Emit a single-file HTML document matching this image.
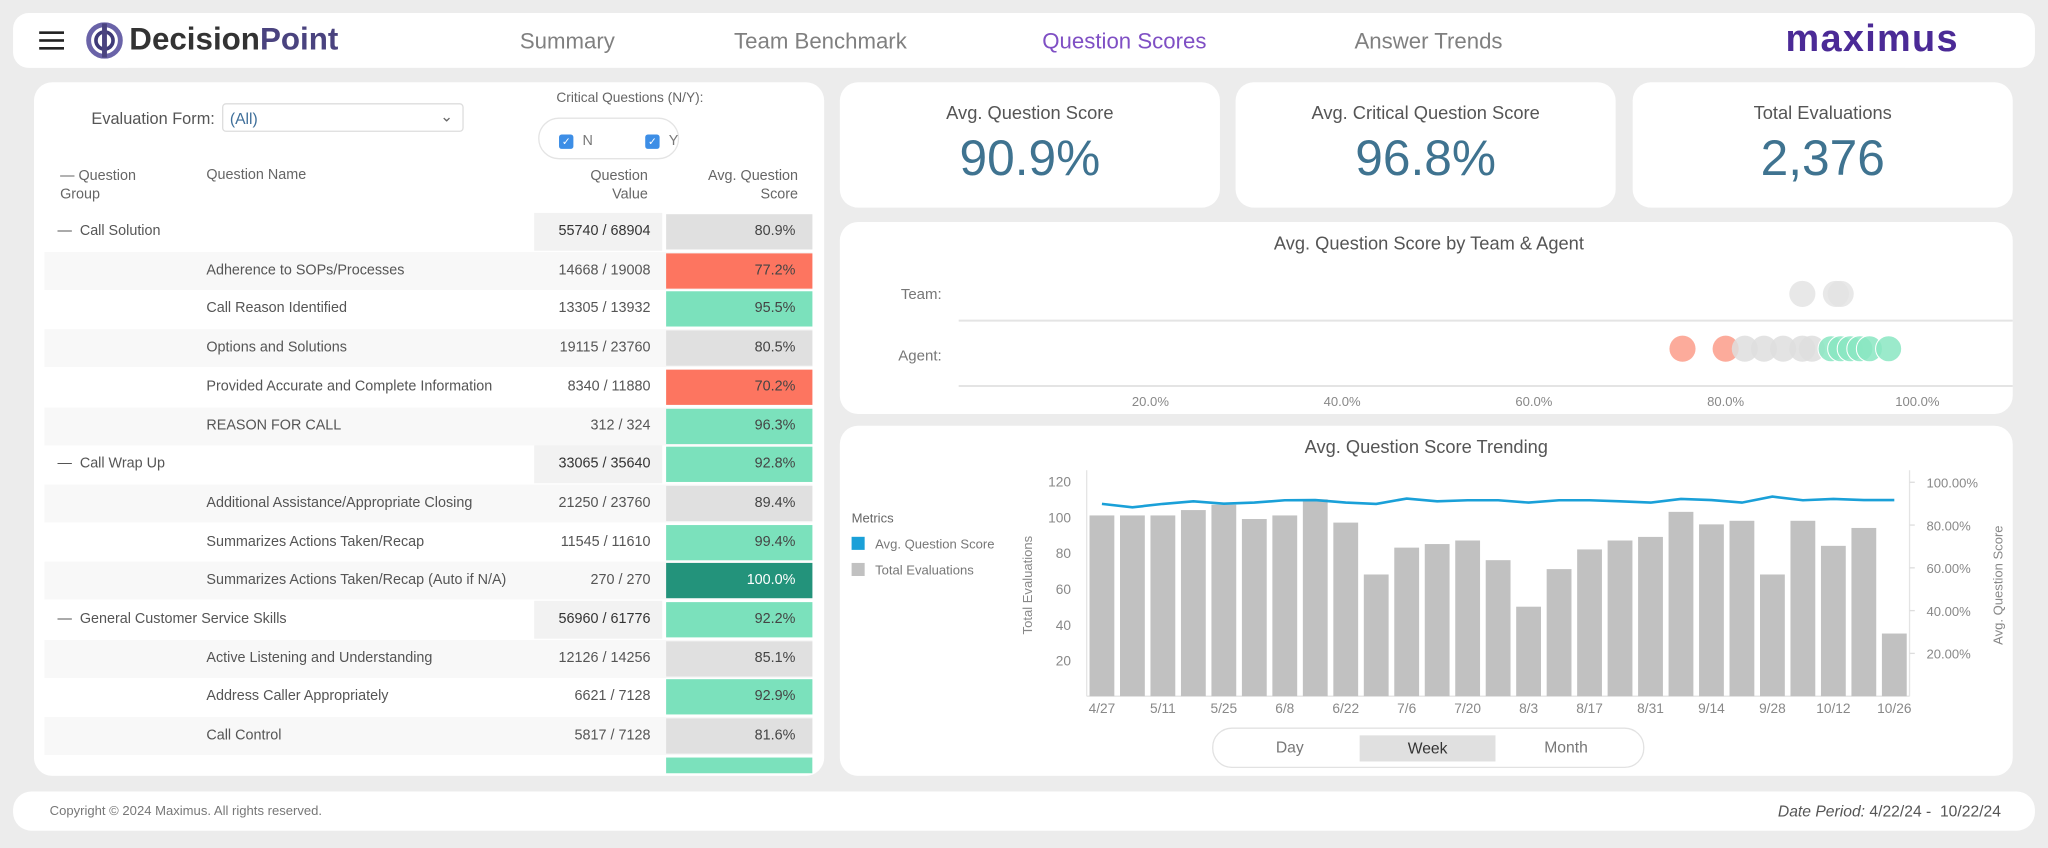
<!DOCTYPE html>
<html><head><meta charset="utf-8"><style>
*{box-sizing:border-box;margin:0;padding:0}
html,body{width:2048px;height:848px;overflow:hidden;background:#ececec;font-family:"Liberation Sans",Arial,sans-serif}
#root{position:absolute;left:0;top:0;width:1568px;height:649px;transform:scale(1.30612);transform-origin:0 0}
.card{position:absolute;background:#fff;border-radius:14px}
.abs{position:absolute}
.nav{position:absolute;top:12px;font-size:17px;color:#808080}
.kt{position:absolute;left:0;right:0;top:15px;text-align:center;font-size:14px;color:#555}
.kv{position:absolute;left:0;right:0;top:38px;text-align:center;font-size:38px;color:#3f7390}
.row{position:absolute;left:34px;width:588px;height:29px;font-size:11px;color:#555}
.row .nm{position:absolute;left:124px;top:8px}
.row .gn{position:absolute;left:10px;top:8px}
.row .val{position:absolute;left:375px;width:98px;top:0;height:29px;text-align:right;padding:8px 9px 0 0}
.row .sc{position:absolute;left:476px;width:112px;top:1px;height:27px;text-align:right;padding:7px 13px 0 0}
</style></head><body>
<div id="root">
<div class="card" style="left:10px;top:10px;width:1548px;height:42px;border-radius:12px">
  <div class="abs" style="left:20px;top:14px;width:19px;height:14px;border-top:2px solid #222;border-bottom:2px solid #222"><div style="margin-top:4px;height:2px;background:#222"></div></div>
  <svg class="abs" style="left:54px;top:7px" width="32" height="28" viewBox="0 0 34 30"><circle cx="17" cy="15" r="13" fill="none" stroke="#6a63a8" stroke-width="4"/><circle cx="17" cy="15" r="7" fill="none" stroke="#3f3a78" stroke-width="3"/><rect x="15" y="1" width="4" height="28" fill="#4a437f"/></svg>
  <div class="abs" style="left:89px;top:7px;font-size:24px;font-weight:bold;color:#333">Decision<span style="color:#4a437f">Point</span></div>
  <div class="nav" style="left:388px">Summary</div>
  <div class="nav" style="left:552px">Team Benchmark</div>
  <div class="nav" style="left:788px;color:#7f4fc4">Question Scores</div>
  <div class="nav" style="left:1027px">Answer Trends</div>
  <div class="abs" style="left:1357px;top:4px;font-size:29px;font-weight:bold;color:#4b2a96;letter-spacing:1px">maximus</div>
</div>

<div class="card" style="left:26px;top:63px;width:605px;height:531px;overflow:hidden">
  <div class="abs" style="left:44px;top:21px;font-size:12.5px;color:#555">Evaluation Form:</div>
  <div class="abs" style="left:144px;top:16px;width:185px;height:22px;border:1px solid #ddd;border-radius:3px;font-size:12px;color:#3f6f9a;padding:4px 5px">(All)<span style="position:absolute;right:7px;top:2px;color:#666">⌄</span></div>
  <div class="abs" style="left:400px;top:6px;font-size:10.5px;color:#666">Critical Questions (N/Y):</div>
  <div class="abs" style="left:386px;top:27px;width:108px;height:32px;border:1px solid #e4e4e4;border-radius:16px"></div>
  <div class="abs" style="left:402px;top:40px;width:11px;height:11px;background:#3d8ee6;border-radius:2px;color:#fff;font-size:8px;text-align:center;line-height:11px">✓</div>
  <div class="abs" style="left:420px;top:39px;font-size:11px;color:#777">N</div>
  <div class="abs" style="left:468px;top:40px;width:11px;height:11px;background:#3d8ee6;border-radius:2px;color:#fff;font-size:8px;text-align:center;line-height:11px">✓</div>
  <div class="abs" style="left:486px;top:39px;font-size:11px;color:#777">Y</div>
  <div class="abs" style="left:20px;top:65px;font-size:11px;color:#666;line-height:14px">— Question<br>Group</div>
  <div class="abs" style="left:132px;top:65px;font-size:11px;color:#666">Question Name</div>
  <div class="abs" style="left:400px;top:65px;font-size:11px;color:#666;line-height:14px;text-align:right;width:70px">Question<br>Value</div>
  <div class="abs" style="left:480px;top:65px;font-size:11px;color:#666;line-height:14px;text-align:right;width:105px">Avg. Question<br>Score</div>
</div>
<div id="rows"></div>

<div class="card" style="left:643px;top:63px;width:291px;height:96px"><div class="kt">Avg. Question Score</div><div class="kv">90.9%</div></div>
<div class="card" style="left:946px;top:63px;width:291px;height:96px"><div class="kt">Avg. Critical Question Score</div><div class="kv">96.8%</div></div>
<div class="card" style="left:1250px;top:63px;width:291px;height:96px"><div class="kt">Total Evaluations</div><div class="kv">2,376</div></div>

<div class="card" style="left:643px;top:170px;width:898px;height:147px"></div>
<svg id="dots" class="abs" style="left:0;top:0" width="1568" height="649"></svg>

<div class="card" style="left:643px;top:326px;width:898px;height:268px"></div>
<svg id="trend" class="abs" style="left:0;top:0" width="1568" height="649"></svg>
<div class="abs" style="left:928px;top:557px;width:331px;height:31px;border:1px solid #e2e2e2;border-radius:15px;background:#fff"></div>
<div class="abs" style="left:940px;top:562px;width:95px;height:21px;text-align:center;font-size:12px;color:#777;line-height:21px">Day</div>
<div class="abs" style="left:1041px;top:563px;width:104px;height:20px;background:#e0e0e0;text-align:center;font-size:12px;color:#333;line-height:20px">Week</div>
<div class="abs" style="left:1150px;top:562px;width:98px;height:21px;text-align:center;font-size:12px;color:#777;line-height:21px">Month</div>

<div class="card" style="left:10px;top:606px;width:1548px;height:30px">
  <div class="abs" style="left:28px;top:10px;font-size:10px;color:#777">Copyright © 2024 Maximus. All rights reserved.</div>
  <div class="abs" style="right:26px;top:8px;font-size:12px;color:#555;font-style:italic">Date Period: <span style="font-style:normal">4/22/24 -&nbsp; 10/22/24</span></div>
</div>
</div>
<script>
// ---- table data ----
const rowNames=["Call Solution","Adherence to SOPs/Processes","Call Reason Identified","Options and Solutions","Provided Accurate and Complete Information","REASON FOR CALL","Call Wrap Up","Additional Assistance/Appropriate Closing","Summarizes Actions Taken/Recap","Summarizes Actions Taken/Recap (Auto if N/A)","General Customer Service Skills","Active Listening and Understanding","Address Caller Appropriately","Call Control",""];
const rowIsGroup=[1,0,0,0,0,0,1,0,0,0,1,0,0,0,0];
const rowValues=["55740 / 68904","14668 / 19008","13305 / 13932","19115 / 23760","8340 / 11880","312 / 324","33065 / 35640","21250 / 23760","11545 / 11610","270 / 270","56960 / 61776","12126 / 14256","6621 / 7128","5817 / 7128",""];
const rowScores=[80.9,77.2,95.5,80.5,70.2,96.3,92.8,89.4,99.4,100.0,92.2,85.1,92.9,81.6,95];
function scoreColor(s){if(s>=99.95)return"#23937b";if(s<78)return"#fd7560";if(s>=90)return"#7be1bc";return"#e0e0e0";}
const rc=document.getElementById('rows');
rowNames.forEach((n,i)=>{
  const r=document.createElement('div');r.className='row';
  
  
  const top=163+i*29.7;
  r.style.top=top+'px';
  if(i==14){r.style.height='13px';r.style.overflow='hidden';}
  if(i==1||i==3||i==5||i==7||i==9||i==11||i==13)r.style.background='#f8f8f8';
  let h='';
  if(rowIsGroup[i])h+='<div class="gn">— &nbsp;'+n+'</div>';else if(n)h+='<div class="nm">'+n+'</div>';
  if(n)h+='<div class="val" style="'+(rowIsGroup[i]?'background:#f2f2f2;color:#333':'')+'">'+rowValues[i]+'</div>';
  h+='<div class="sc" style="background:'+scoreColor(rowScores[i])+';color:'+(rowScores[i]>=99.95?'#fff':'#444')+'">'+(n?rowScores[i].toFixed(1)+'%':'')+'</div>';
  r.innerHTML=h;rc.appendChild(r);
});
// ---- dot chart data ----
const NS='http://www.w3.org/2000/svg';
const dotTicks=[20,40,60,80,100];
const teamScores=[88,91.5,92];
const agentScores=[75.5,80,82,84,86,88,89,91,92,93,94,95,97];
const dx=v=>734+v*7.34;
const ds=document.getElementById('dots');
function mk(p,tag,attrs,text){const e=document.createElementNS(NS,tag);for(const k in attrs)e.setAttribute(k,attrs[k]);if(text!=null)e.textContent=text;p.appendChild(e);return e;}
let t=mk(ds,'text',{x:1094,y:191,'text-anchor':'middle','font-size':14,fill:'#555'},'Avg. Question Score by Team & Agent');


t=mk(ds,'text',{x:721,y:229,'text-anchor':'end','font-size':11.5,fill:'#777'},'Team:');


t=mk(ds,'text',{x:721,y:276,'text-anchor':'end','font-size':11.5,fill:'#777'},'Agent:');


mk(ds,'line',{x1:734,x2:1541,y1:245.5,y2:245.5,stroke:'#e4e4e4','stroke-width':1.5});
mk(ds,'line',{x1:734,x2:1541,y1:295.5,y2:295.5,stroke:'#e4e4e4','stroke-width':1.5});
dotTicks.forEach(v=>{const e=mk(ds,'text',{x:dx(v),y:311,'text-anchor':'middle','font-size':10,fill:'#888'},v.toFixed(1)+'%');

});
function dcol(s){return s<81?'#fb9c8a':(s>=90?'#8ae6c2':'#dedede');}
teamScores.forEach(s=>{const c=mk(ds,'ellipse',{cx:dx(s),cy:225,rx:10,ry:10,fill:'#e2e2e2','fill-opacity':0.8});

});
agentScores.forEach(s=>{const c=mk(ds,'ellipse',{cx:dx(s),cy:267,rx:10,ry:10,fill:dcol(s),'fill-opacity':0.85,stroke:s>=90?'#fff':'none','stroke-width':0.8});

});
// ---- trend chart data ----
const weekLabels=["4/27","5/4","5/11","5/18","5/25","6/1","6/8","6/15","6/22","6/29","7/6","7/13","7/20","7/27","8/3","8/10","8/17","8/24","8/31","9/7","9/14","9/21","9/28","10/5","10/12","10/19","10/26"];
const totalEvals=[101,101,101,104,107,99,101,110,97,68,83,85,87,76,50,71,82,87,89,103,96,98,68,98,84,94,35];
const avgScores=[89.9,88.3,89.9,91.1,90,90.5,91.6,91.7,90.5,89.9,92.4,91.1,91.6,91.6,90.5,91.6,91.6,91.1,90.5,92.2,91.7,90.5,93.3,91.6,92.2,91.7,91.7];
const leftTicks=[20,40,60,80,100,120];
const rightTicks=[20,40,60,80,100];
const plotL=832,plotR=1462,plotB=533;
const yL=v=>plotB-v*1.37;
const yR=v=>plotB-v*1.6375;
const slot=(plotR-plotL)/weekLabels.length;
const xC=i=>plotL+slot*(i+0.5);
const ts=document.getElementById('trend');
t=mk(ts,'text',{x:1092,y:347,'text-anchor':'middle','font-size':14,fill:'#555'},'Avg. Question Score Trending');


mk(ts,'line',{x1:plotL,x2:plotL,y1:360,y2:plotB,stroke:'#e4e4e4'});
mk(ts,'line',{x1:plotR,x2:plotR,y1:360,y2:plotB,stroke:'#e4e4e4'});
mk(ts,'line',{x1:plotL,x2:plotR,y1:plotB,y2:plotB,stroke:'#e4e4e4'});
leftTicks.forEach(v=>{const e=mk(ts,'text',{x:820,y:yL(v)+4,'text-anchor':'end','font-size':10.5,fill:'#888'},v);

});
rightTicks.forEach(v=>{mk(ts,'line',{x1:plotR,x2:plotR+4,y1:yR(v),y2:yR(v),stroke:'#ddd'});
const e=mk(ts,'text',{x:1475,y:yR(v)+4,'font-size':10,fill:'#888'},v.toFixed(2)+'%');

});
t=mk(ts,'text',{x:0,y:0,'text-anchor':'middle','font-size':10,fill:'#888',transform:'translate(790,448) rotate(-90)'},'Total Evaluations');


t=mk(ts,'text',{x:0,y:0,'text-anchor':'middle','font-size':10,fill:'#888',transform:'translate(1533,448) rotate(-90)'},'Avg. Question Score');


totalEvals.forEach((v,i)=>{const b=mk(ts,'rect',{x:xC(i)-9.5,y:yL(v),width:19,height:plotB-yL(v),fill:'#c1c1c1'});

});
weekLabels.forEach((l,i)=>{if(i%2==0){const e=mk(ts,'text',{x:xC(i),y:546,'text-anchor':'middle','font-size':10.5,fill:'#888'},l);

}});
const ln=mk(ts,'polyline',{points:avgScores.map((v,i)=>xC(i)+','+yR(v)).join(' '),fill:'none',stroke:'#1aa0d8','stroke-width':2});


t=mk(ts,'text',{x:652,y:400,'font-size':10,fill:'#666'},'Metrics');


mk(ts,'rect',{x:652,y:411,width:10,height:10,fill:'#1aa0d8'});
t=mk(ts,'text',{x:670,y:420,'font-size':10,fill:'#777'},'Avg. Question Score');


mk(ts,'rect',{x:652,y:431,width:10,height:10,fill:'#c1c1c1'});
t=mk(ts,'text',{x:670,y:440,'font-size':10,fill:'#777'},'Total Evaluations');


</script>
</body></html>
